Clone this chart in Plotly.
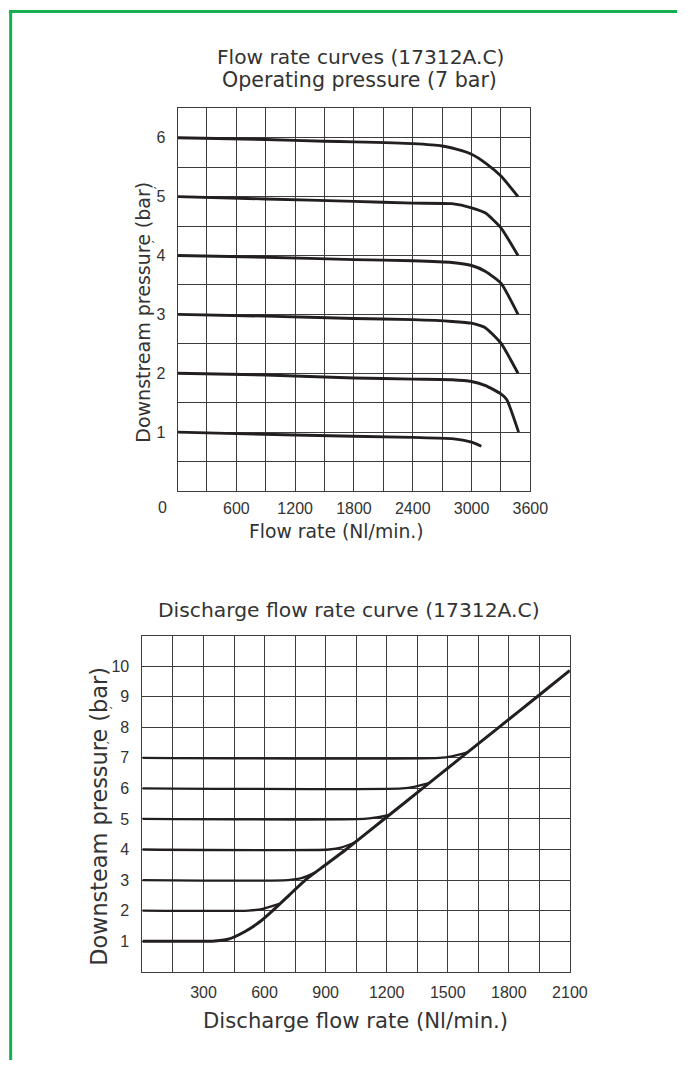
import plotly.graph_objects as go

# The HTML body adds an 8px margin; the captured page is 703 px wide and shown at 687 px
PAGE_OFF = 8
SX = 687 / 703
W, H = 687, 1052

# ---------------- Top chart data: Flow rate curves ----------------
top_xticks = [600, 1200, 1800, 2400, 3000, 3600]
top_yticks = [1, 2, 3, 4, 5, 6]

c6_x = [0, 900, 1500, 1800, 2400, 2700, 2900, 3000, 3143, 3300, 3474]
c6_y = [6.0, 5.97, 5.94, 5.93, 5.90, 5.86, 5.78, 5.72, 5.57, 5.35, 5.0]
c5_x = [0, 900, 1800, 2400, 2800, 3000, 3143, 3300, 3474]
c5_y = [5.0, 4.96, 4.92, 4.89, 4.88, 4.81, 4.72, 4.47, 4.0]
c4_x = [0, 900, 1800, 2400, 2800, 3000, 3143, 3300, 3474]
c4_y = [4.0, 3.97, 3.93, 3.91, 3.88, 3.83, 3.73, 3.53, 3.0]
c3_x = [0, 900, 1800, 2400, 2800, 3000, 3143, 3300, 3474]
c3_y = [3.0, 2.97, 2.93, 2.91, 2.88, 2.85, 2.77, 2.51, 2.0]
c2_x = [0, 900, 1800, 2400, 2800, 3000, 3143, 3300, 3360, 3480]
c2_y = [2.0, 1.97, 1.92, 1.90, 1.89, 1.86, 1.79, 1.65, 1.55, 1.0]
c1_x = [0, 1200, 2400, 2800, 3000, 3100]
c1_y = [1.0, 0.95, 0.91, 0.89, 0.83, 0.76]
top_curves = [(c6_x, c6_y), (c5_x, c5_y), (c4_x, c4_y), (c3_x, c3_y), (c2_x, c2_y), (c1_x, c1_y)]

# ---------------- Bottom chart data: Discharge flow rate ----------------
bot_xticks = [300, 600, 900, 1200, 1500, 1800, 2100]
bot_yticks = [1, 2, 3, 4, 5, 6, 7, 8, 9, 10]

main_x = [0, 343, 420, 500, 580, 640, 720, 800, 900, 1000, 1188, 1376, 1563, 1751, 1939, 2100]
main_y = [1, 1, 1.06, 1.30, 1.65, 2.0, 2.5, 3.0, 3.5, 4.0, 5.0, 6.0, 7.0, 8.0, 9.0, 9.86]
l2_x = [0, 521, 587, 672]; l2_y = [2, 2, 2.05, 2.22]
l3_x = [0, 714, 785, 853]; l3_y = [3, 3, 3.07, 3.26]
l4_x = [0, 918, 980, 1041]; l4_y = [4, 4, 4.07, 4.22]
l5_x = [0, 1090, 1150, 1212]; l5_y = [5, 5, 5.05, 5.13]
l6_x = [0, 1277, 1340, 1408]; l6_y = [6, 6, 6.06, 6.17]
l7_x = [0, 1458, 1525, 1596]; l7_y = [7, 7, 7.06, 7.18]
bot_levels = [(l2_x, l2_y), (l3_x, l3_y), (l4_x, l4_y), (l5_x, l5_y), (l6_x, l6_y), (l7_x, l7_y)]

LINE = "#231f20"
GRID = "#3c3c3c"
TXT = "#333333"
TITLE_FONT = "DejaVu Sans"
TICK_FONT = "Liberation Sans"

fig = go.Figure()
for xs, ys in top_curves:
    fig.add_trace(go.Scatter(x=xs, y=ys, mode="lines", xaxis="x", yaxis="y",
                             line=dict(color=LINE, width=2.9, shape="spline", smoothing=0.5),
                             showlegend=False, hoverinfo="skip"))
for xs, ys in bot_levels:
    fig.add_trace(go.Scatter(x=xs, y=ys, mode="lines", xaxis="x2", yaxis="y2",
                             line=dict(color=LINE, width=2.3, shape="spline", smoothing=0.6),
                             showlegend=False, hoverinfo="skip"))
fig.add_trace(go.Scatter(x=main_x, y=main_y, mode="lines", xaxis="x2", yaxis="y2",
                         line=dict(color=LINE, width=3, shape="spline", smoothing=0.5),
                         showlegend=False, hoverinfo="skip"))

def px2x(p):
    return (p / SX - PAGE_OFF) / W

def px2y(p):
    return 1 - (p - PAGE_OFF) / H

def axis_common(size):
    return dict(showline=True, mirror=True, linecolor=GRID, linewidth=1,
                showgrid=True, gridcolor=GRID, gridwidth=1, zeroline=False,
                ticks="", fixedrange=True,
                tickfont=dict(family=TICK_FONT, size=size, color=TXT))

fig.update_layout(
    width=W, height=H, autosize=False,
    margin=dict(l=0, r=0, t=0, b=0),
    paper_bgcolor="white", plot_bgcolor="white",
    xaxis=dict(domain=[px2x(178), px2x(532)], range=[0, 3600], anchor="y",
               tickmode="array", tickvals=top_xticks,
               minor=dict(tickmode="linear", tick0=0, dtick=300, showgrid=True, gridcolor=GRID, gridwidth=1),
               ticklabelstandoff=3, **axis_common(16)),
    yaxis=dict(domain=[px2y(491), px2y(108.3)], range=[0, 6.5], anchor="x",
               tickmode="array", tickvals=top_yticks,
               minor=dict(tickmode="linear", tick0=0, dtick=0.5, showgrid=True, gridcolor=GRID, gridwidth=1),
               ticklabelstandoff=8, **axis_common(16)),
    xaxis2=dict(domain=[px2x(142.7), px2x(571.7)], range=[0, 2100], anchor="y2",
                tickmode="array", tickvals=bot_xticks,
                minor=dict(tickmode="linear", tick0=0, dtick=150, showgrid=True, gridcolor=GRID, gridwidth=1),
                ticklabelstandoff=6, **axis_common(16)),
    yaxis2=dict(domain=[px2y(971.7), px2y(635.7)], range=[0, 11], anchor="x2",
                tickmode="array", tickvals=bot_yticks,
                ticklabelstandoff=9, **axis_common(16)),
)

ann = []
def text(x, y, s, size, family=TITLE_FONT, angle=0):
    ann.append(dict(x=px2x(x), y=px2y(y), xref="paper", yref="paper", text=s,
                    showarrow=False, xanchor="center", yanchor="middle", textangle=angle,
                    font=dict(family=family, size=size, color=TXT)))

text(362, 57, "Flow rate curves (17312A.C)", 20.2)
text(361, 80, "Operating pressure (7 bar)", 20.6)
text(337, 532, "Flow rate (Nl/min.)", 18.8)
text(143, 312, "Downstream pressure (bar)", 19, angle=-90)
text(155, 193, "`", 13, family=TICK_FONT)
text(153, 246, "`", 13, family=TICK_FONT)

text(350, 610, "Discharge flow rate curve (17312A.C)", 20.3)
text(357, 1020, "Discharge flow rate (Nl/min.)", 21.2)
text(99, 816, "Downsteam pressure (bar)", 22.4, angle=-90)
text(111, 712, "`", 13, family=TICK_FONT)
text(108, 747, "`", 13, family=TICK_FONT)

# "0" label of the top chart sits left of the axis origin
ann.append(dict(x=0, y=px2y(508), xref="x", yref="paper", text="0", showarrow=False,
                xanchor="center", yanchor="middle", xshift=-15,
                font=dict(family=TICK_FONT, size=16, color=TXT)))

fig.update_layout(annotations=ann)

GREEN = "#14b04f"
fig.update_layout(shapes=[
    dict(type="line", xref="paper", yref="paper", x0=px2x(9), x1=1, y0=px2y(11.5), y1=px2y(11.5),
         line=dict(color=GREEN, width=3)),
    dict(type="line", xref="paper", yref="paper", x0=px2x(10.5), x1=px2x(10.5), y0=px2y(10), y1=0,
         line=dict(color=GREEN, width=3)),
])

fig.write_html("out.html", config={"displayModeBar": False})
